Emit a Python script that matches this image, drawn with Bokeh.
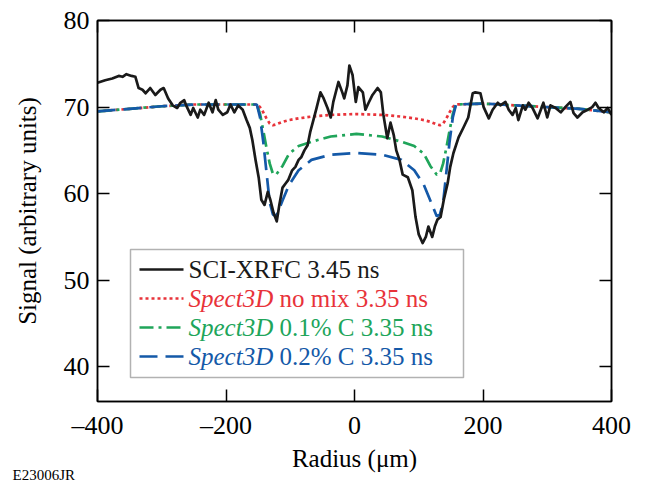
from bokeh.plotting import figure
from bokeh.models import Range1d, LinearAxis, FixedTicker, Label, BoxAnnotation, Arrow, Title
from bokeh.embed import file_html
from bokeh.resources import INLINE

# ---------------- data ----------------
radius_meas = [-400, -388, -377, -367, -361, -355, -347, -341, -336, -330,
               -325, -318, -310, -302, -297, -290, -283, -276, -271, -265,
               -262, -255, -251, -244, -240, -234, -227, -221, -216, -212,
               -205, -198, -193, -187, -181, -174, -168, -163, -159, -154,
               -149, -145, -140, -135, -131, -126, -121, -117, -112, -107,
               -103, -97, -92, -87, -83, -78, -73, -69, -64, -59,
               -53, -48, -42, -37, -33, -25, -19, -16, -11, -8,
               -3, 2, 6, 13, 17, 22, 28, 36, 41, 45,
               51, 56, 61, 65, 70, 75, 83, 90, 95, 100,
               106, 111, 115, 121, 125, 129, 134, 139, 145, 149,
               154, 162, 170, 177, 184, 188, 196, 201, 209, 215,
               223, 227, 235, 240, 246, 251, 255, 262, 266, 271,
               277, 285, 290, 294, 300, 305, 313, 321, 328, 336,
               341, 347, 355, 363, 370, 375, 380, 388, 394, 400]
signal_meas = [72.8, 73.1, 73.3, 73.6, 73.5, 73.8, 73.6, 73.5, 72.2, 72.0,
               71.6, 72.2, 71.4, 72.0, 72.2, 71.0, 70.2, 69.9, 70.5, 70.8,
               70.2, 69.1, 69.9, 68.8, 69.7, 69.1, 70.5, 69.4, 70.8, 69.7,
               69.1, 69.4, 70.3, 69.4, 70.2, 69.7, 68.5, 67.6, 66.2, 63.9,
               61.8, 59.3, 58.7, 60.2, 59.3, 57.8, 56.8, 58.7, 60.7, 61.2,
               61.6, 62.7, 63.1, 63.9, 64.2, 65.0, 65.6, 67.1, 68.5, 69.9,
               71.7, 71.0, 69.9, 68.8, 70.6, 72.9, 71.7, 71.0, 72.5, 74.8,
               73.7, 70.6, 72.3, 71.7, 69.7, 70.5, 71.4, 72.2, 71.7, 69.1,
               66.4, 68.2, 66.8, 65.0, 63.9, 62.2, 61.9, 60.4, 57.3, 55.3,
               54.3, 55.0, 56.2, 55.0, 56.2, 57.0, 57.3, 59.3, 61.2, 63.1,
               64.7, 66.5, 67.7, 68.8, 71.6, 71.7, 71.6, 70.0, 68.7, 69.7,
               70.5, 70.2, 70.6, 69.7, 69.1, 69.9, 68.5, 70.2, 69.7, 70.5,
               69.9, 68.7, 69.7, 70.5, 68.8, 70.2, 69.9, 69.4, 70.0, 70.6,
               69.3, 68.8, 69.4, 69.7, 70.0, 70.5, 69.9, 69.4, 69.9, 69.1]

radius_model = [-400, -350, -300, -250, -200,
                -152, -147, -142, -137, -132, -127, -122, -112, -102, -87, -67, -37,
                3,
                43, 73, 93, 108, 118, 128, 133, 138, 143, 148, 153, 158,
                200, 250, 300, 350, 400]
signal_nomix = [69.5, 69.8, 70.1, 70.3, 70.3,
                70.3, 70.0, 69.4, 68.7, 68.1, 67.9, 68.0, 68.3, 68.5, 68.7, 68.9, 69.1,
                69.2,
                69.1, 68.9, 68.7, 68.5, 68.3, 68.0, 67.9, 68.1, 68.7, 69.4, 70.0, 70.3,
                70.4, 70.2, 70.0, 69.8, 69.4]
signal_c01 = [69.5, 69.8, 70.1, 70.3, 70.3,
              70.3, 69.2, 67.3, 65.3, 63.5, 62.3, 62.2, 63.2, 64.6, 65.5, 66.0, 66.6,
              66.9,
              66.6, 66.0, 65.5, 64.6, 63.2, 62.2, 62.3, 63.5, 65.3, 67.3, 69.2, 70.3,
              70.4, 70.2, 70.0, 69.8, 69.4]
signal_c02 = [69.5, 69.8, 70.1, 70.3, 70.3,
              70.3, 68.8, 66.0, 62.5, 59.0, 57.6, 57.4, 59.2, 61.0, 62.7, 63.9, 64.5,
              64.7,
              64.5, 63.9, 62.7, 61.0, 59.2, 57.4, 57.6, 59.0, 62.5, 66.0, 68.8, 70.3,
              70.4, 70.2, 70.0, 69.8, 69.4]

x_ticks = [-400, -200, 0, 200, 400]
x_tick_labels = ["\u2013400", "\u2013200", "0", "200", "400"]
y_ticks = [40, 50, 60, 70, 80]

legend_italic = ["", "Spect3D", "Spect3D", "Spect3D"]
legend_rest = ["SCI-XRFC 3.45 ns", "no mix 3.35 ns", "0.1% C 3.35 ns", "0.2% C 3.35 ns"]

# ---------------- style ----------------
FONT = "Liberation Serif"
BLACK = "#1a1a1a"
RED = "#e8333a"
GREEN = "#20a55a"
BLUE = "#1459a8"
LW = 2.7

p = figure(width=637, height=484, output_backend="svg", toolbar_location=None,
           x_range=Range1d(-400, 400), y_range=Range1d(36, 80),
           min_border_left=97, min_border_right=26, min_border_top=20,
           min_border_bottom=83,
           x_axis_label="Radius (\u03bcm)", y_axis_label="Signal (arbitrary units)")
p.grid.visible = False
p.outline_line_color = "black"
p.outline_line_width = 1.5
p.background_fill_color = "white"
p.border_fill_color = "white"


def style_axis(ax, ticks, show_labels=True):
    ax.ticker = FixedTicker(ticks=ticks)
    ax.major_tick_in = 12
    ax.major_tick_out = 0
    ax.minor_tick_in = 0
    ax.minor_tick_out = 0
    ax.axis_line_color = "black"
    ax.axis_line_width = 1.5
    ax.major_tick_line_color = "black"
    ax.major_tick_line_width = 1.5
    ax.major_label_text_font = FONT
    ax.major_label_text_color = "black"
    ax.axis_label_text_font = FONT
    ax.axis_label_text_font_style = "normal"
    ax.axis_label_text_color = "black"
    ax.axis_label_text_font_size = "25px"
    if show_labels:
        ax.major_label_text_font_size = "26px"
        ax.major_label_standoff = 6
    else:
        ax.major_label_text_font_size = "0px"
        ax.major_label_standoff = 0
        ax.major_label_overrides = {t: "" for t in ticks}


xa = p.xaxis[0]
ya = p.yaxis[0]
style_axis(xa, x_ticks)
xa.major_label_overrides = dict(zip(x_ticks, x_tick_labels))
xa.major_label_standoff = 9
xa.axis_label_standoff = 2
style_axis(ya, y_ticks)
ya.major_label_standoff = 8
ya.axis_label_standoff = 20

top = LinearAxis()
style_axis(top, x_ticks, show_labels=False)
p.add_layout(top, "above")
right = LinearAxis()
style_axis(right, y_ticks, show_labels=False)
p.add_layout(right, "right")

# figure code under the x axis (side-panel title, nearly zero height)
p.add_layout(Title(text="E23006JR", align="left", vertical_align="middle", offset=-85,
                   standoff=-17, text_font=FONT, text_font_size="15px",
                   text_font_style="normal", text_color="black"), "below")

# ---------------- curves ----------------
p.line(radius_model, signal_nomix, line_color=RED, line_width=LW, line_dash="3 3")
p.line(radius_model, signal_c01, line_color=GREEN, line_width=LW, line_dash="14 5 3 5")
p.line(radius_model, signal_c02, line_color=BLUE, line_width=LW, line_dash="18 8")
p.line(radius_meas, signal_meas, line_color=BLACK, line_width=LW, line_join="round")

# ---------------- legend (custom, mixed italic text) ----------------
p.add_layout(BoxAnnotation(left=33, right=366, bottom=24, top=152,
                           left_units="screen", right_units="screen",
                           bottom_units="screen", top_units="screen",
                           fill_color="white", fill_alpha=1.0,
                           line_color="black", line_width=1.5, level="annotation"))
row_y = [132, 103, 74, 45]
colors = [BLACK, RED, GREEN, BLUE]
dashes = ["solid", "3 3", "14 5 3 5", "18 8"]
LEG_FS = 25
italic_w = 3.388 * LEG_FS + 0.25 * LEG_FS
for i in range(4):
    p.add_layout(Arrow(end=None, x_start=42, y_start=row_y[i], x_end=86, y_end=row_y[i],
                       start_units="screen", end_units="screen",
                       line_color=colors[i], line_width=LW, line_dash=dashes[i]))
    x0 = 91
    if legend_italic[i]:
        p.add_layout(Label(x=x0, y=row_y[i], x_units="screen", y_units="screen",
                           text=legend_italic[i], text_font=FONT, text_font_size=f"{LEG_FS}px",
                           text_font_style="italic", text_color=colors[i],
                           text_baseline="middle"))
        x0 += italic_w
    p.add_layout(Label(x=x0, y=row_y[i], x_units="screen", y_units="screen",
                       text=legend_rest[i], text_font=FONT, text_font_size=f"{LEG_FS}px",
                       text_color=colors[i], text_baseline="middle"))

open("out.html", "w").write(file_html(p, INLINE))
